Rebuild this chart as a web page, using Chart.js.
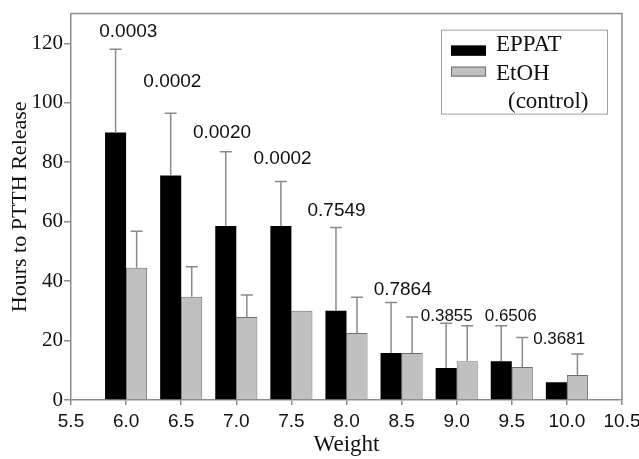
<!DOCTYPE html>
<html>
<head>
<meta charset="utf-8">
<script src="https://cdn.jsdelivr.net/npm/chart.js@4.4.1/dist/chart.umd.min.js"></script>
<style>
    body { margin: 0; background: #fff; }
    #wrap { width: 639px; height: 459px; position: relative; }
</style>
</head>
<body>
<div id="wrap"><canvas id="grafica"></canvas></div>
<script>
// Datos
const weights = [6.0, 6.5, 7.0, 7.5, 8.0, 8.5, 9.0, 9.5, 10.0];
const eppatMeans = [90, 75.5, 58.5, 58.5, 30, 15.8, 10.8, 13, 6];
const eppatSD = [28, 21, 25, 15, 28, 17, 15, 12, null];
const etohMeans = [44.5, 34.7, 27.9, 30, 22.5, 15.8, 13, 11.1, 8.4];
const etohSD = [12.3, 10.1, 7.4, null, 12.1, 12.1, 12, 9.9, 7.1];

const seriesNames = ['EPPAT', 'EtOH'];
const seriesNotes = ['', '(control)'];

// p-values y su posicion (unidades de datos)
const pValues = ['0.0003', '0.0002', '0.0020', '0.0002', '0.7549', '0.7864', '0.3855', '0.6506', '0.3681'];
const pLabelX = [6.02, 6.42, 6.87, 7.42, 7.91, 8.51, 8.91, 9.49, 9.93];
const pLabelY = [124, 107, 90, 81, 63.5, 37, 28, 28, 20.5];
const pLabelSmall = [false, false, false, false, false, false, true, true, true];

const xMin = 5.5, xMax = 10.5, xStep = 0.5;
const yMin = 0, yMax = 130, yStep = 20;

const GRIS_EJE = '#8c8c8c';
const SERIF = '"Liberation Serif", "Times New Roman", serif';
const sdList = [eppatSD, etohSD];

// Marco superior y derecho
const marcoPlugin = {
    id: 'marco',
    afterDraw(chart) {
        const {ctx, chartArea: a} = chart;
        ctx.save();
        ctx.strokeStyle = GRIS_EJE;
        ctx.lineWidth = 1.5;
        ctx.beginPath();
        ctx.moveTo(a.left, a.top);
        ctx.lineTo(a.right, a.top);
        ctx.lineTo(a.right, a.bottom);
        ctx.stroke();
        ctx.restore();
    }
};

// Barras de error (solo hacia arriba)
const errorPlugin = {
    id: 'errores',
    afterDatasetsDraw(chart) {
        const {ctx} = chart;
        const yScale = chart.scales.y;
        ctx.save();
        ctx.strokeStyle = '#8a8a8a';
        ctx.lineWidth = 1.5;
        chart.data.datasets.forEach((ds, i) => {
            const meta = chart.getDatasetMeta(i);
            meta.data.forEach((bar, j) => {
                const sd = sdList[i][j];
                if (sd == null) return;
                const top = yScale.getPixelForValue(ds.data[j].y + sd);
                ctx.beginPath();
                ctx.moveTo(bar.x, bar.y);
                ctx.lineTo(bar.x, top);
                ctx.moveTo(bar.x - 6, top);
                ctx.lineTo(bar.x + 6, top);
                ctx.stroke();
            });
        });
        ctx.restore();
    }
};

// Etiquetas de p-values
const pPlugin = {
    id: 'pvalores',
    afterDraw(chart) {
        const {ctx} = chart;
        const xs = chart.scales.x, ys = chart.scales.y;
        ctx.save();
        ctx.fillStyle = '#111';
        ctx.textAlign = 'center';
        ctx.textBaseline = 'middle';
        pValues.forEach((txt, k) => {
            ctx.font = (pLabelSmall[k] ? '17px' : '19px') + ' "Liberation Sans", Arial, sans-serif';
            ctx.fillText(txt, xs.getPixelForValue(pLabelX[k]), ys.getPixelForValue(pLabelY[k]));
        });
        ctx.restore();
    }
};

// Leyenda dentro del area
const leyendaPlugin = {
    id: 'leyenda',
    afterDraw(chart) {
        const {ctx, chartArea: a} = chart;
        const x0 = a.right - 181, y0 = a.top + 16;
        ctx.save();
        ctx.strokeStyle = '#a0a0a0';
        ctx.lineWidth = 1;
        ctx.strokeRect(x0 + 0.5, y0 + 0.5, 166, 84);
        ctx.font = '23px ' + SERIF;
        ctx.textBaseline = 'middle';
        chart.data.datasets.forEach((ds, i) => {
            const sy = y0 + 16 + i * 21;
            ctx.fillStyle = ds.backgroundColor;
            ctx.fillRect(x0 + 10, sy, 35, 10);
            ctx.strokeStyle = ds.borderColor;
            ctx.strokeRect(x0 + 10.5, sy + 0.5, 34, 9);
            ctx.fillStyle = '#111';
            ctx.fillText(seriesNames[i], x0 + 55, y0 + 15 + i * 29);
            if (seriesNotes[i]) {
                ctx.fillText(seriesNotes[i], x0 + 67, y0 + 72);
            }
        });
        ctx.restore();
    }
};

function initGrafica() {
    const ctx = document.getElementById('grafica').getContext('2d');
    new Chart(ctx, {
        type: 'bar',
        data: {
            datasets: [{
                label: seriesNames[0],
                data: weights.map((w, i) => ({x: w, y: eppatMeans[i]})),
                backgroundColor: '#000000',
                borderColor: '#000000',
                borderWidth: 0
            }, {
                label: seriesNames[1],
                data: weights.map((w, i) => ({x: w, y: etohMeans[i]})),
                backgroundColor: '#c0c0c0',
                borderColor: '#6e6e6e',
                borderWidth: 1
            }]
        },
        options: {
            responsive: true,
            maintainAspectRatio: false,
            animation: false,
            datasets: {
                bar: {
                    barPercentage: 1,
                    categoryPercentage: 0.764
                }
            },
            layout: {
                padding: {top: 13, right: 17, left: 0, bottom: 0}
            },
            plugins: {
                legend: {display: false},
                tooltip: {enabled: false}
            },
            scales: {
                x: {
                    type: 'linear',
                    min: xMin,
                    max: xMax,
                    offset: false,
                    afterFit(scale) {
                        scale.height = 59;
                        scale.paddingLeft = 0;
                        scale.paddingRight = 0;
                    },
                    grid: {
                        offset: false,
                        drawOnChartArea: false,
                        drawTicks: true,
                        tickLength: 5,
                        color: GRIS_EJE,
                        lineWidth: 1.5
                    },
                    border: {color: GRIS_EJE, width: 1.5},
                    ticks: {
                        stepSize: xStep,
                        padding: 5,
                        color: '#111',
                        font: {family: '"Liberation Sans", Arial, sans-serif', size: 19},
                        callback: v => Number(v).toFixed(1)
                    },
                    title: {
                        display: true,
                        text: 'Weight',
                        color: '#111',
                        padding: {top: 0, bottom: 0},
                        font: {family: SERIF, size: 23}
                    }
                },
                y: {
                    min: yMin,
                    max: yMax,
                    afterFit(scale) { scale.width = 71; },
                    afterBuildTicks(scale) {
                        scale.ticks = scale.ticks.filter(t => t.value % yStep === 0);
                    },
                    grid: {
                        drawOnChartArea: false,
                        drawTicks: true,
                        tickLength: 7,
                        color: GRIS_EJE,
                        lineWidth: 1.5
                    },
                    border: {color: GRIS_EJE, width: 1.5},
                    ticks: {
                        stepSize: yStep,
                        padding: 1,
                        color: '#111',
                        font: {family: SERIF, size: 21}
                    },
                    title: {
                        display: true,
                        text: 'Hours to PTTH Release',
                        color: '#111',
                        padding: {top: 7, bottom: 0},
                        font: {family: SERIF, size: 22}
                    }
                }
            }
        },
        plugins: [errorPlugin, marcoPlugin, pPlugin, leyendaPlugin]
    });
}

document.addEventListener('DOMContentLoaded', initGrafica);
</script>
</body>
</html>
